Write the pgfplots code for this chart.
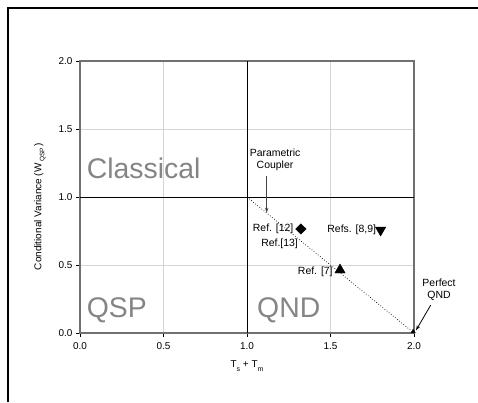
\documentclass[border=0pt]{standalone}
\usepackage{fontspec}
\setmainfont{Liberation Sans}
\usepackage{pgfplots}
\pgfplotsset{compat=1.18}
\usetikzlibrary{arrows.meta}
\definecolor{axgray}{HTML}{707070}
\definecolor{gridgray}{HTML}{D4D4D4}
\definecolor{regiongray}{HTML}{858585}
\begin{document}
\begin{tikzpicture}[x=1bp,y=1bp]
\path[use as bounding box] (0,0) rectangle (478,-402);
\draw[line width=2bp] (8,-402) -- (8,-8) -- (478,-8);
\begin{axis}[
  at={(80bp,-333bp)}, anchor=south west,
  scale only axis, width=334bp, height=272bp,
  xmin=0, xmax=2, ymin=0, ymax=2,
  xtick={0,0.5,1,1.5,2}, ytick={0,0.5,1,1.5,2},
  /pgf/number format/assume math mode=true,
  xticklabel style={yshift=-2.5bp,/pgf/number format/.cd,fixed,fixed zerofill,precision=1},
  yticklabel style={/pgf/number format/.cd,fixed,fixed zerofill,precision=1},
  tick label style={font=\fontsize{10}{12}\selectfont},
  grid=major, grid style={gridgray, line width=0.8pt},
  axis line style={axgray, line width=1.3pt},
  tick style={black, line width=0.8pt},
  tick align=outside, tick pos=left, major tick length=4bp,
  clip=false,
  xlabel={T\raisebox{-4pt}{\fontsize{7}{7}\selectfont s} + T\raisebox{-4pt}{\fontsize{7}{7}\selectfont m}},
  ylabel={Conditional Variance (W\,\raisebox{-3pt}{\fontsize{6.5}{6.5}\selectfont QSP}\,)},
  label style={font=\fontsize{13.5}{15}\selectfont},
  every axis x label/.style={at={(axis description cs:0.5,-0.12)}, anchor=center},
  every axis y label/.style={at={(axis description cs:-0.12,0.465)}, anchor=center, rotate=90},
]
% black lines at 1.0
\addplot[black, line width=1pt] coordinates {(1,0) (1,2)};
\addplot[black, line width=1pt] coordinates {(0,1) (2,1)};
% dotted line
\addplot[black, dotted, line width=0.7pt] coordinates {(1,1) (2,0)};
% data markers
\addplot[only marks, mark=diamond*, mark size=5.2bp, black, mark options={xscale=1.35}] coordinates {(1.323,0.765)};
\addplot[only marks, mark=triangle*, mark size=6bp, black, mark options={rotate=180}] coordinates {(1.80,0.757)};
\addplot[only marks, mark=triangle*, mark size=6bp, black] coordinates {(1.557,0.463)};
\addplot[only marks, mark=triangle*, mark size=2.5bp, black] coordinates {(1.995,0.01)};
% region labels
\node[anchor=west, text=regiongray, font=\fontsize{28.5}{30}\selectfont] at (axis cs:0.02,1.21) {Classical};
\node[anchor=west, text=regiongray, font=\fontsize{28.5}{30}\selectfont] at (axis cs:0.02,0.165) {QSP};
\node[anchor=west, text=regiongray, font=\fontsize{28.5}{30}\selectfont] at (axis cs:1.04,0.165) {QND};
% annotations
\node[align=center, font=\fontsize{10.5}{12.5}\selectfont] at (axis cs:1.168,1.275) {Parametric\\Coupler};
\draw[-{Stealth[length=5bp,width=3.5bp]}, axgray!60!black, line width=0.9pt] (axis cs:1.118,1.155) -- (axis cs:1.118,0.885);
\node[align=center, font=\fontsize{10.5}{12.5}\selectfont] at (axis cs:2.15,0.318) {Perfect\\QND};
\draw[-{Stealth[length=5bp,width=3.5bp]}, black, line width=0.8pt] (axis cs:2.10,0.205) -- (axis cs:2.012,0.02);
\node[anchor=east, inner sep=1pt, font=\fontsize{10.5}{12}\selectfont] at (axis cs:1.285,0.765) {Ref. [12]};
\node[inner sep=1pt, font=\fontsize{10.5}{12}\selectfont] at (axis cs:1.195,0.654) {Ref.[13]};
\node[anchor=east, inner sep=1pt, font=\fontsize{10.5}{12}\selectfont] at (axis cs:1.78,0.757) {Refs. [8,9]};
\node[anchor=east, inner sep=1pt, font=\fontsize{10.5}{12}\selectfont] at (axis cs:1.52,0.45) {Ref. [7]};
\end{axis}
\end{tikzpicture}
\end{document}
